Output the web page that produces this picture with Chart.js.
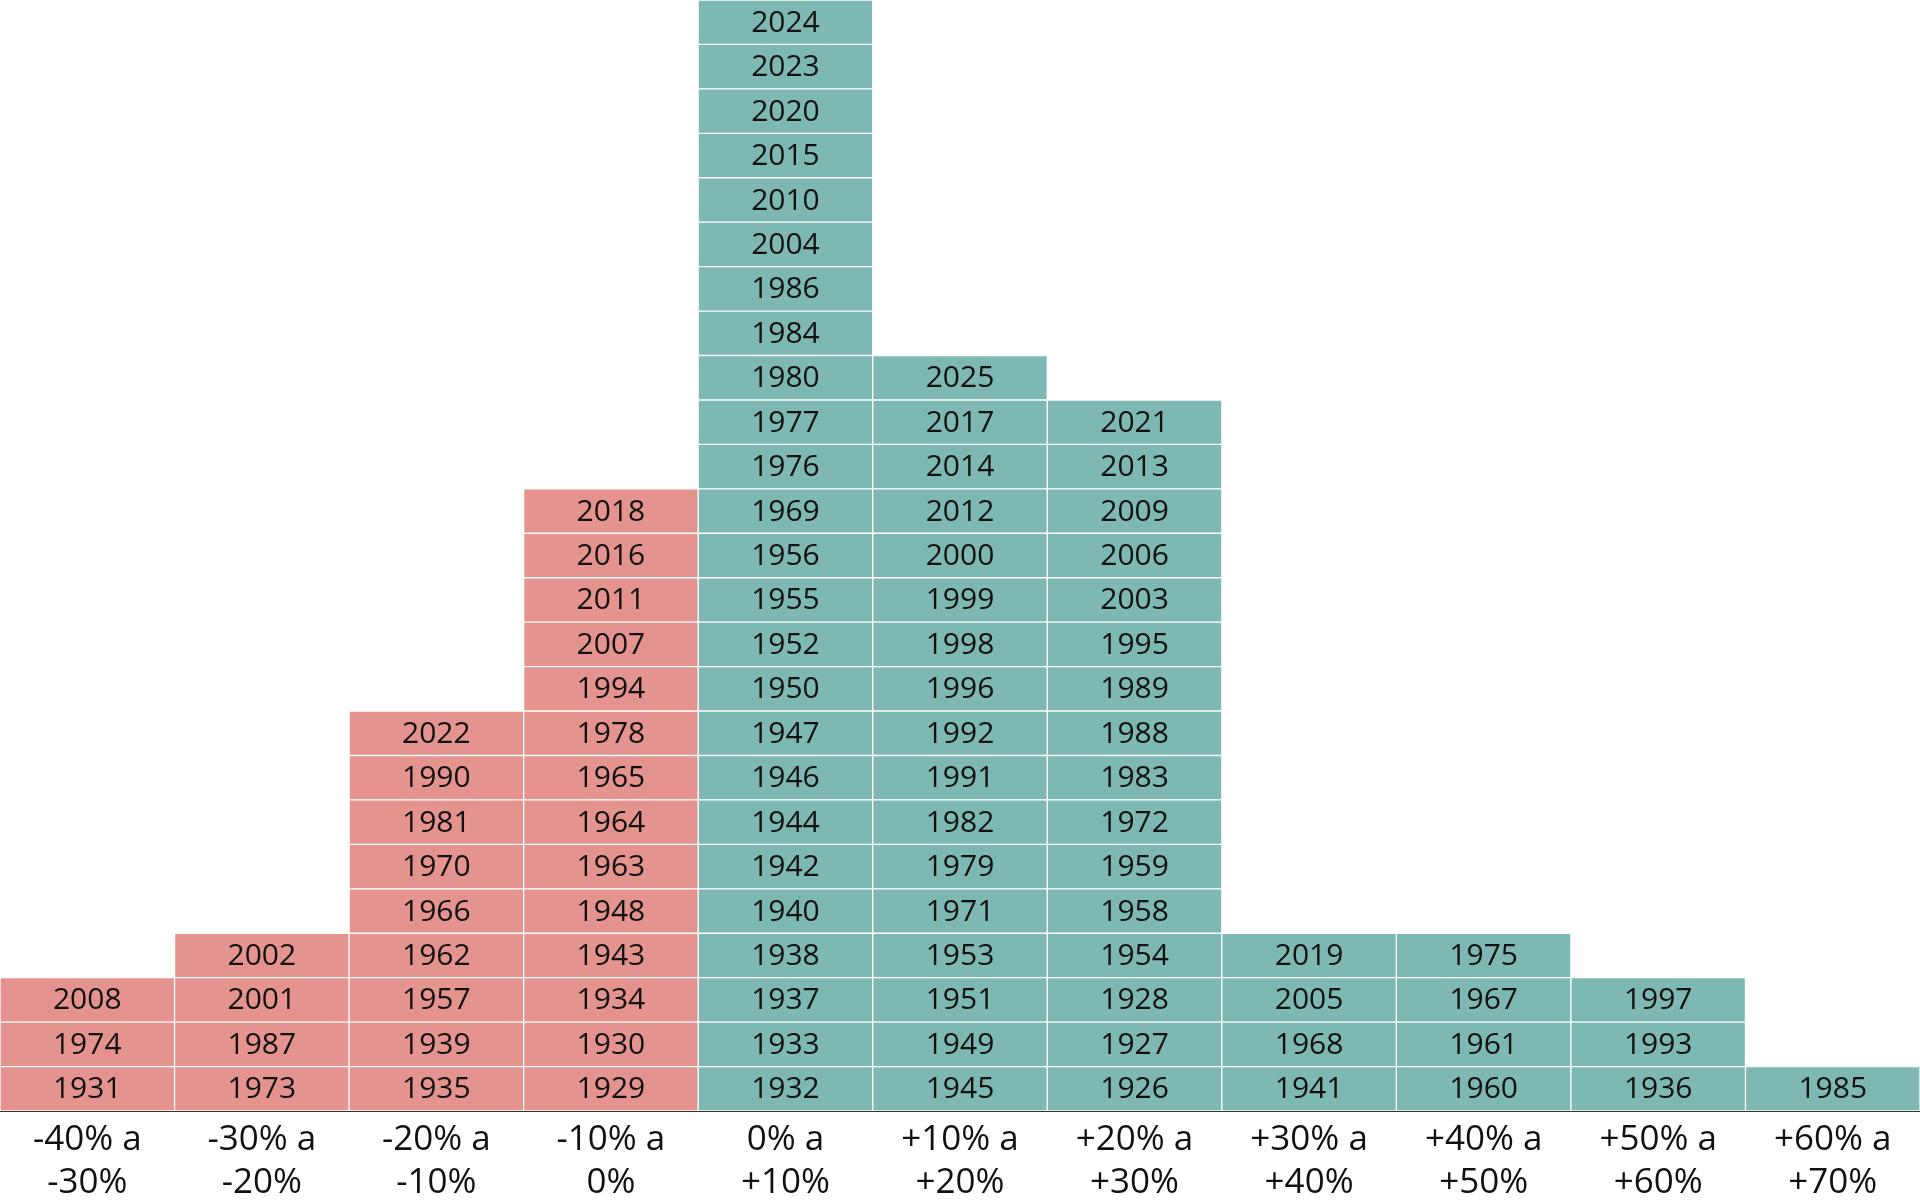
<!DOCTYPE html>
<html>
<head>
<meta charset="utf-8">
<script src="https://cdn.jsdelivr.net/npm/chart.js@4"></script>
<style>
  html, body { margin: 0; padding: 0; background: #fff; }
  #wrap { width: 1920px; height: 1200px; position: relative; overflow: hidden; }
</style>
</head>
<body>
<div id="wrap"><canvas id="myChart"></canvas></div>
<script>
// return bins, each with its years from bottom to top
const categories = [
  ['-40% a', '-30%'], ['-30% a', '-20%'], ['-20% a', '-10%'], ['-10% a', '0%'],
  ['0% a', '+10%'], ['+10% a', '+20%'], ['+20% a', '+30%'], ['+30% a', '+40%'],
  ['+40% a', '+50%'], ['+50% a', '+60%'], ['+60% a', '+70%']
]
const binM40 = [1931, 1974, 2008]
const binM30 = [1973, 1987, 2001, 2002]
const binM20 = [1935, 1939, 1957, 1962, 1966, 1970, 1981, 1990, 2022]
const binM10 = [1929, 1930, 1934, 1943, 1948, 1963, 1964, 1965, 1978, 1994, 2007, 2011, 2016, 2018]
const binP0 = [1932, 1933, 1937, 1938, 1940, 1942, 1944, 1946, 1947, 1950, 1952, 1955, 1956,
  1969, 1976, 1977, 1980, 1984, 1986, 2004, 2010, 2015, 2020, 2023, 2024]
const binP10 = [1945, 1949, 1951, 1953, 1971, 1979, 1982, 1991, 1992, 1996, 1998, 1999, 2000,
  2012, 2014, 2017, 2025]
const binP20 = [1926, 1927, 1928, 1954, 1958, 1959, 1972, 1983, 1988, 1989, 1995, 2003, 2006,
  2009, 2013, 2021]
const binP30 = [1941, 1968, 2005, 2019]
const binP40 = [1960, 1961, 1967, 1975]
const binP50 = [1936, 1993, 1997]
const binP60 = [1985]
const bins = [binM40, binM30, binM20, binM10, binP0, binP10, binP20, binP30, binP40, binP50, binP60]

const red = '#e4938e'
const teal = '#7db8b2'
const binColors = bins.map((b, i) => i < 4 ? red : teal)

const maxRows = Math.max(...bins.map(b => b.length))
const datasets = []
for (let r = 0; r < maxRows; r++) {
  datasets.push({
    data: bins.map(b => b[r] !== undefined ? 1 : null),
    years: bins.map(b => b[r]),
    backgroundColor: binColors,
    borderColor: '#ffffff',
    borderWidth: 1,
    borderSkipped: false
  })
}

// writes the year in the middle of each cell
const yearLabels = {
  id: 'yearLabels',
  afterDatasetsDraw(chart) {
    const ctx = chart.ctx
    ctx.save()
    ctx.font = '30px "Open Sans", sans-serif'
    ctx.fillStyle = '#111111'
    ctx.textAlign = 'center'
    ctx.textBaseline = 'middle'
    chart.data.datasets.forEach((ds, di) => {
      chart.getDatasetMeta(di).data.forEach((bar, i) => {
        const y = ds.years[i]
        if (y === undefined) return
        const p = bar.getProps(['x', 'y', 'base'], true)
        ctx.fillText(String(y), p.x, (p.y + p.base) / 2 + 1)
      })
    })
    ctx.restore()
  }
}

const ctx = document.getElementById('myChart')
new Chart(ctx, {
  type: 'bar',
  data: { labels: categories, datasets: datasets },
  plugins: [yearLabels],
  options: {
    responsive: true,
    maintainAspectRatio: false,
    devicePixelRatio: 1,
    animation: false,
    layout: { padding: 0 },
    plugins: { legend: { display: false }, tooltip: { enabled: false } },
    datasets: { bar: { barPercentage: 1, categoryPercentage: 1 } },
    scales: {
      x: {
        stacked: true,
        grid: { display: false },
        border: { display: true, color: '#333333', width: 2 },
        ticks: {
          color: '#111111',
          font: { family: '"Open Sans", sans-serif', size: 35, lineHeight: 1.22 },
          maxRotation: 0,
          autoSkip: false,
          padding: 0
        },
        afterFit(scale) { scale.height = 89 }
      },
      y: {
        stacked: true,
        display: false,
        min: 0,
        max: maxRows
      }
    }
  }
})
</script>
</body>
</html>
